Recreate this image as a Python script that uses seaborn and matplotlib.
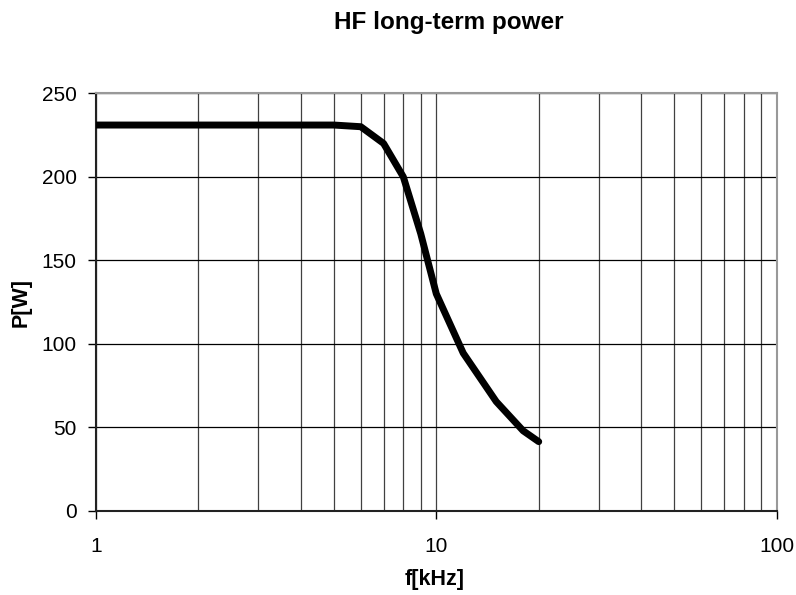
import pandas as pd
import seaborn as sns
import matplotlib.pyplot as plt
from matplotlib.ticker import LogLocator, NullFormatter, FixedLocator

# Data
freq_khz = [1, 5, 6, 7, 8, 9, 10, 12, 15, 18, 20]
power_w = [231, 231, 230, 220, 200, 166, 130, 94.5, 65.5, 48, 41.5]

df = pd.DataFrame({'f': freq_khz, 'P': power_w})

sns.set_style('white')
plt.rcParams['font.family'] = ['Liberation Sans', 'DejaVu Sans']
plt.rcParams['text.color'] = 'black'

fig = plt.figure(figsize=(7.96, 5.95), dpi=100)
ax = fig.add_axes([0.1206, 0.1412, 0.855, 0.702])

sns.lineplot(data=df, x='f', y='P', ax=ax, color='black', linewidth=5,
             solid_capstyle='round', solid_joinstyle='round', zorder=3)

ax.set_xscale('log')
ax.set_xlim(1, 100)
ax.set_ylim(0, 250)
ax.xaxis.set_major_locator(FixedLocator([1, 10, 100]))
ax.xaxis.set_major_formatter(plt.FuncFormatter(lambda v, p: f'{v:g}'))
ax.xaxis.set_minor_locator(LogLocator(base=10, subs=range(2, 10)))
ax.xaxis.set_minor_formatter(NullFormatter())
ax.set_yticks(range(0, 251, 50))

ax.grid(True, which='both', axis='x', color='#404040', linewidth=0.9)
ax.grid(True, which='major', axis='y', color='black', linewidth=0.9)

ax.tick_params(axis='both', which='major', direction='out', length=6,
               width=1, colors='black', labelsize=15, bottom=True, left=True)
ax.tick_params(axis='x', which='minor', length=0)
ax.tick_params(axis='x', pad=13)
ax.tick_params(axis='y', pad=8)

for side in ['left', 'bottom']:
    ax.spines[side].set_color('#222222')
    ax.spines[side].set_linewidth(1.5)
for side in ['top', 'right']:
    ax.spines[side].set_color('#999999')
    ax.spines[side].set_linewidth(1.5)

ax.set_xlabel('f[kHz]', fontsize=15.5, fontweight='bold', color='black', va='center')
ax.set_ylabel('P[W]', fontsize=15.5, fontweight='bold', color='black', va='center')
ax.xaxis.set_label_coords(0.498, -0.165)
ax.yaxis.set_label_coords(-0.110, 0.5)

fig.text(0.564, 0.962, 'HF long-term power', ha='center', va='center',
         fontsize=17.5, fontweight='bold', color='black')

fig.savefig('out.png', dpi=100)
